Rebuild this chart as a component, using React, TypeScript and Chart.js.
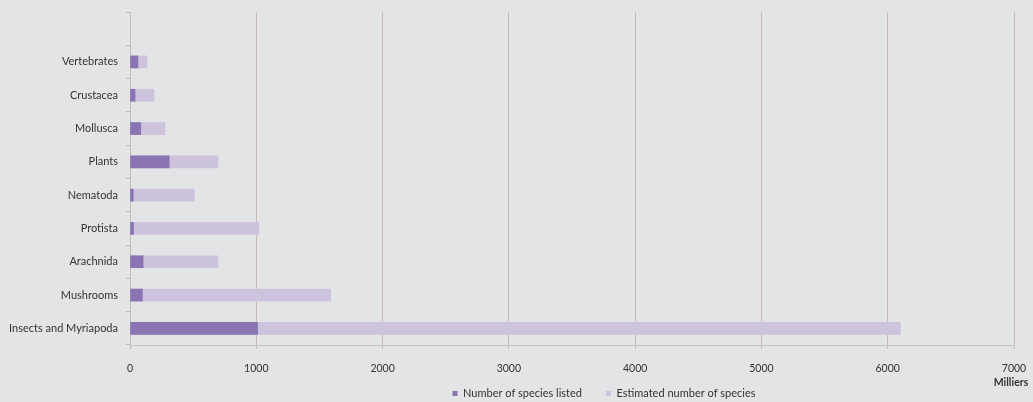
import React, { useEffect, useRef } from "react";
import { Chart, registerables } from "chart.js";

Chart.register(...registerables);

const categories = [
  "",
  "Vertebrates",
  "Crustacea",
  "Mollusca",
  "Plants",
  "Nematoda",
  "Protista",
  "Arachnida",
  "Mushrooms",
  "Insects and Myriapoda",
];
const listedValues = [null, 63, 40, 85, 310, 26, 28, 104, 98, 1010];
const estimatedValues = [null, 135, 190, 277, 697, 508, 1020, 697, 1590, 6100];
const xTicks = [0, 1000, 2000, 3000, 4000, 5000, 6000, 7000];
const unitLabel = "Milliers";
const seriesNames = ["Number of species listed", "Estimated number of species"];

const FONT = "Lato, 'Open Sans', sans-serif";

export default function App() {
  const ref = useRef<HTMLCanvasElement | null>(null);
  useEffect(() => {
    if (!ref.current) return;
    const unitPlugin = {
      id: "unitPlugin",
      afterLayout(chart: any) {
        const lg = chart.legend;
        if (lg) {
          const dx = 97;
          const dy = -13;
          lg.left += dx;
          lg.right += dx;
          lg.top += dy;
          lg.bottom += dy;
          if (lg.legendHitBoxes)
            lg.legendHitBoxes.forEach((b: any) => {
              b.left += dx;
              b.top += dy;
            });
        }
      },
      afterDraw(chart: any) {
        const ctx = chart.ctx;
        const x = chart.scales.x;
        ctx.save();
        ctx.font = `bold 10.5px ${FONT}`;
        ctx.fillStyle = "#333";
        ctx.textAlign = "center";
        ctx.textBaseline = "middle";
        ctx.fillText(unitLabel, x.right - 3, 383);
        ctx.restore();
      },
    };
    const chart = new Chart(ref.current, {
      type: "bar",
      data: {
        labels: categories,
        datasets: [
          {
            label: seriesNames[0],
            data: listedValues as any,
            backgroundColor: "#8a74b2",
            barThickness: 12,
          },
          {
            label: seriesNames[1],
            data: estimatedValues as any,
            backgroundColor: "#cdc3dd",
            barThickness: 12,
          },
        ],
      },
      options: {
        indexAxis: "y",
        animation: false,
        responsive: false,
        layout: { padding: { top: 12, right: 19, left: 0, bottom: -20 } },
        scales: {
          x: {
            min: 0,
            max: 7000,
            afterBuildTicks: (s: any) => {
              s.ticks = xTicks.map((v) => ({ value: v }));
            },
            afterFit: (s: any) => {
              s.height = 32;
              s.paddingLeft = 0;
              s.paddingRight = 0;
            },
            grid: {
              color: "#c8bbb5",
              lineWidth: 1,
              tickLength: 4,
              tickColor: "#c8bbb5",
            },
            border: { color: "#c9c5c4" },
            ticks: {
              color: "#333",
              font: { family: FONT, size: 10.5 },
              padding: 13,
              maxRotation: 0,
              callback: (v: any) => String(v),
            },
          },
          y: {
            stacked: true,
            afterFit: (s: any) => {
              s.width = 130;
              s.paddingTop = 0;
              s.paddingBottom = 0;
            },
            grid: {
              offset: true,
              drawOnChartArea: false,
              tickLength: 4,
              tickColor: "#c8bbb5",
            },
            border: { color: "#c8bbb5" },
            ticks: {
              color: "#333",
              font: { family: FONT, size: 11 },
              padding: 8,
            },
          },
        },
        plugins: {
          legend: {
            position: "bottom",
            labels: {
              boxWidth: 5,
              boxHeight: 5,
              padding: 24,
              color: "#333",
              font: { family: FONT, size: 11 },
            },
          },
          tooltip: { enabled: false },
        },
      },
      plugins: [unitPlugin],
    });
    return () => chart.destroy();
  }, []);
  return (
    <div style={{ position: "absolute", left: 0, top: 0, width: 1033, height: 402, background: "#e3e4e6" }}>
      <canvas ref={ref} width={1033} height={402} style={{ display: "block" }} />
    </div>
  );
}
